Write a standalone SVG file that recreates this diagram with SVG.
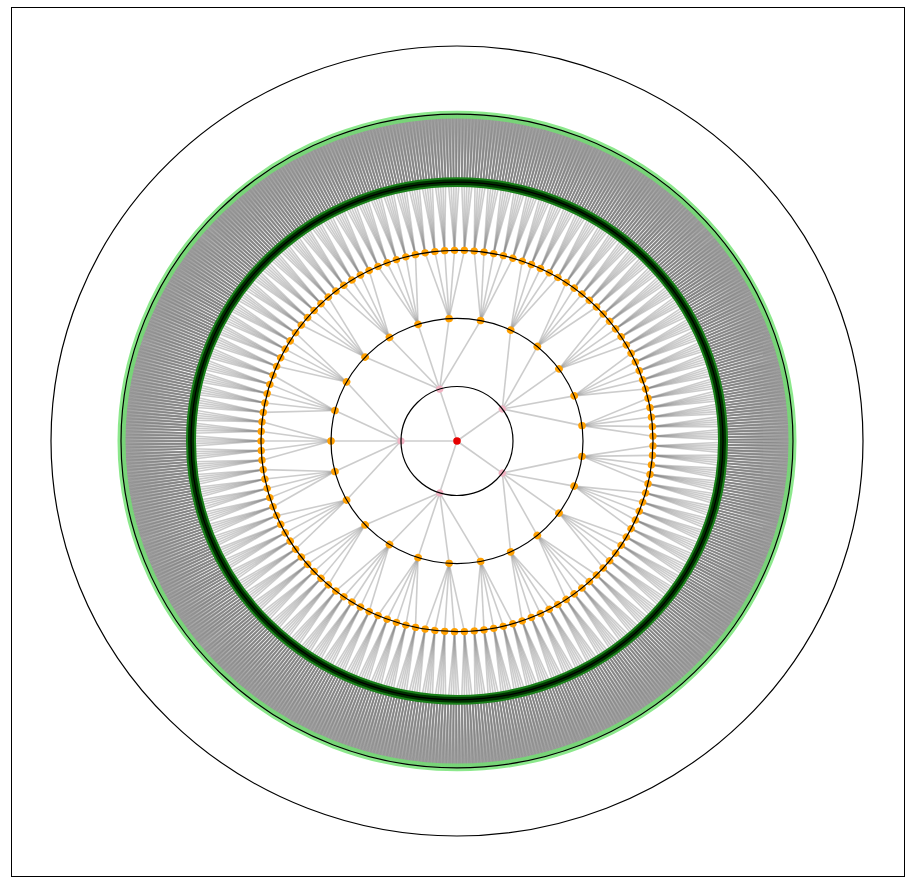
<svg xmlns="http://www.w3.org/2000/svg" xmlns:xlink="http://www.w3.org/1999/xlink" width="910" height="887" viewBox="0 0 910 887">
<style>
.or{fill:#ffa000}
.pk{fill:#f2b3c3}
.ring{fill:none;stroke:#000;stroke-width:1.2}
</style>
<defs>
<g id="e4" stroke-opacity="0.5">
<line x1="266" y1="0" x2="336" y2="-1.351"/>
<line x1="266" y1="0" x2="336" y2="-0.676"/>
<line x1="266" y1="0" x2="336" y2="0"/>
<line x1="266" y1="0" x2="336" y2="0.676"/>
<line x1="266" y1="0" x2="336" y2="1.351"/>
</g>
<g id="e3">
<line x1="196" y1="0" x2="265.946" y2="-5.348"/>
<line x1="196" y1="0" x2="265.987" y2="-2.674"/>
<line x1="196" y1="0" x2="266" y2="0"/>
<line x1="196" y1="0" x2="265.987" y2="2.674"/>
<line x1="196" y1="0" x2="265.946" y2="5.348"/>
<use xlink:href="#e4" href="#e4" transform="rotate(-1.152)"/>
<use xlink:href="#e4" href="#e4" transform="rotate(-0.576)"/>
<use xlink:href="#e4" href="#e4"/>
<use xlink:href="#e4" href="#e4" transform="rotate(0.576)"/>
<use xlink:href="#e4" href="#e4" transform="rotate(1.152)"/>
</g>
<g id="e2">
<line x1="126" y1="0" x2="195.010" y2="-19.671"/>
<line x1="126" y1="0" x2="195.752" y2="-9.848"/>
<line x1="126" y1="0" x2="196" y2="0"/>
<line x1="126" y1="0" x2="195.752" y2="9.848"/>
<line x1="126" y1="0" x2="195.010" y2="19.671"/>
<use xlink:href="#e3" href="#e3" transform="rotate(-5.76)"/>
<use xlink:href="#e3" href="#e3" transform="rotate(-2.88)"/>
<use xlink:href="#e3" href="#e3"/>
<use xlink:href="#e3" href="#e3" transform="rotate(2.88)"/>
<use xlink:href="#e3" href="#e3" transform="rotate(5.76)"/>
</g>
<g id="e1">
<line x1="0" y1="0" x2="56" y2="0"/>
<line x1="56" y1="0" x2="110.415" y2="-60.701"/>
<line x1="56" y1="0" x2="122.041" y2="-31.335"/>
<line x1="56" y1="0" x2="126" y2="0"/>
<line x1="56" y1="0" x2="122.041" y2="31.335"/>
<line x1="56" y1="0" x2="110.415" y2="60.701"/>
<use xlink:href="#e2" href="#e2" transform="rotate(-28.8)"/>
<use xlink:href="#e2" href="#e2" transform="rotate(-14.4)"/>
<use xlink:href="#e2" href="#e2"/>
<use xlink:href="#e2" href="#e2" transform="rotate(14.4)"/>
<use xlink:href="#e2" href="#e2" transform="rotate(28.8)"/>
</g>
<circle id="n3" class="or" cx="196" cy="0" r="3.7"/>
<g id="n2">
<circle class="or" cx="126" cy="0" r="3.8"/>
<use xlink:href="#n3" href="#n3" transform="rotate(-5.76)"/>
<use xlink:href="#n3" href="#n3" transform="rotate(-2.88)"/>
<use xlink:href="#n3" href="#n3"/>
<use xlink:href="#n3" href="#n3" transform="rotate(2.88)"/>
<use xlink:href="#n3" href="#n3" transform="rotate(5.76)"/>
</g>
<g id="n1">
<circle class="pk" cx="56" cy="0" r="3.6"/>
<use xlink:href="#n2" href="#n2" transform="rotate(-28.8)"/>
<use xlink:href="#n2" href="#n2" transform="rotate(-14.4)"/>
<use xlink:href="#n2" href="#n2"/>
<use xlink:href="#n2" href="#n2" transform="rotate(14.4)"/>
<use xlink:href="#n2" href="#n2" transform="rotate(28.8)"/>
</g>
</defs>
<rect x="0" y="0" width="910" height="887" fill="#fff"/>
<rect x="11.5" y="7.5" width="893" height="869" fill="none" stroke="#000" stroke-width="1"/>
<g transform="translate(457 441) scale(1 0.973)">
<g id="connectors" stroke="#808080" stroke-opacity="0.4" stroke-width="1.6">
<use xlink:href="#e1" href="#e1" transform="rotate(36)"/>
<use xlink:href="#e1" href="#e1" transform="rotate(108)"/>
<use xlink:href="#e1" href="#e1" transform="rotate(180)"/>
<use xlink:href="#e1" href="#e1" transform="rotate(252)"/>
<use xlink:href="#e1" href="#e1" transform="rotate(324)"/>
</g>
<g id="level4-nodes">
<circle cx="0" cy="0" r="266" fill="none" stroke="#1a801a" stroke-width="10"/>
<circle cx="0" cy="0" r="266" fill="none" stroke="#003300" stroke-width="6"/>
</g>
<g id="level5-nodes">
<circle cx="0" cy="0" r="335.5" fill="none" stroke="#6fe26f" stroke-opacity="0.8" stroke-width="8"/>
</g>
<g id="inner-nodes">
<use xlink:href="#n1" href="#n1" transform="rotate(36)"/>
<use xlink:href="#n1" href="#n1" transform="rotate(108)"/>
<use xlink:href="#n1" href="#n1" transform="rotate(180)"/>
<use xlink:href="#n1" href="#n1" transform="rotate(252)"/>
<use xlink:href="#n1" href="#n1" transform="rotate(324)"/>
</g>
<g id="root">
<circle cx="0" cy="0" r="3.8" fill="#e60000"/>
</g>
<g id="rings">
<circle class="ring" cx="0" cy="0" r="56"/>
<circle class="ring" cx="0" cy="0" r="126"/>
<circle class="ring" cx="0" cy="0" r="196"/>
<circle class="ring" cx="0" cy="0" r="266"/>
<circle class="ring" cx="0" cy="0" r="336"/>
<circle class="ring" cx="0" cy="0" r="406"/>
</g>
</g>
</svg>
